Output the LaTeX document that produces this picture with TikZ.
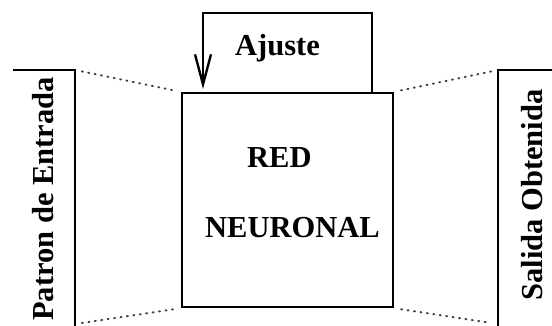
\documentclass[tikz,border=0pt]{standalone}
\usepackage{fontspec}
\setmainfont{Liberation Serif}
\usetikzlibrary{arrows.meta}
\begin{document}
\begin{tikzpicture}[x=1pt,y=-1pt,
  solidline/.style={line width=2.4pt, black},
  dotline/.style={line width=2pt, black!75, dash pattern=on 1pt off 5.5pt, line cap=round, shorten <=7pt, shorten >=7pt},
  lbl/.style={font=\fontsize{30.5}{36}\selectfont\bfseries, inner sep=0pt}]
\useasboundingbox (0,0) rectangle (552,325);
% main box
\node[draw, line width=2.4pt, minimum width=211pt, minimum height=214pt, inner sep=0pt] (red) at (287.5,200) {};
\node[lbl, anchor=base west] (t1) at (247,167) {RED};
\node[lbl, anchor=base west] (t2) at (205,237) {NEURONAL};
% feedback loop
\coordinate (fbs) at (372,93);
\coordinate (fb1) at (372,13);
\coordinate (fb2) at (203,13);
\coordinate (fbe) at (203,89);
\draw[solidline, -{Straight Barb[length=30pt,width=16pt,line width=2.4pt]}] (fbs) -- (fb1) -- (fb2) -- (fbe);
\node[lbl, anchor=base west] (aj) at (235,55) {Ajuste};
% input bar
\coordinate (la) at (13,70);
\coordinate (lt) at (75,70);
\coordinate (lb) at (75,326);
\coordinate (ld) at (75,324);
\draw[solidline] (la) -- (lt) -- (lb);
\node[lbl, rotate=90, anchor=base] (pin) at (53,199) {Patron de Entrada};
% output bar
\coordinate (ra) at (553,70);
\coordinate (rt) at (498,70);
\coordinate (rb) at (498,326);
\coordinate (rd) at (498,324);
\draw[solidline] (ra) -- (rt) -- (rb);
\node[lbl, rotate=90, anchor=base] (pout) at (542,195) {Salida Obtenida};
% dotted connections
\draw[dotline] (lt) -- (red.north west);
\draw[dotline] (ld) -- (red.south west);
\draw[dotline] (red.north east) -- (rt);
\draw[dotline] (red.south east) -- (rd);
\end{tikzpicture}
\end{document}
